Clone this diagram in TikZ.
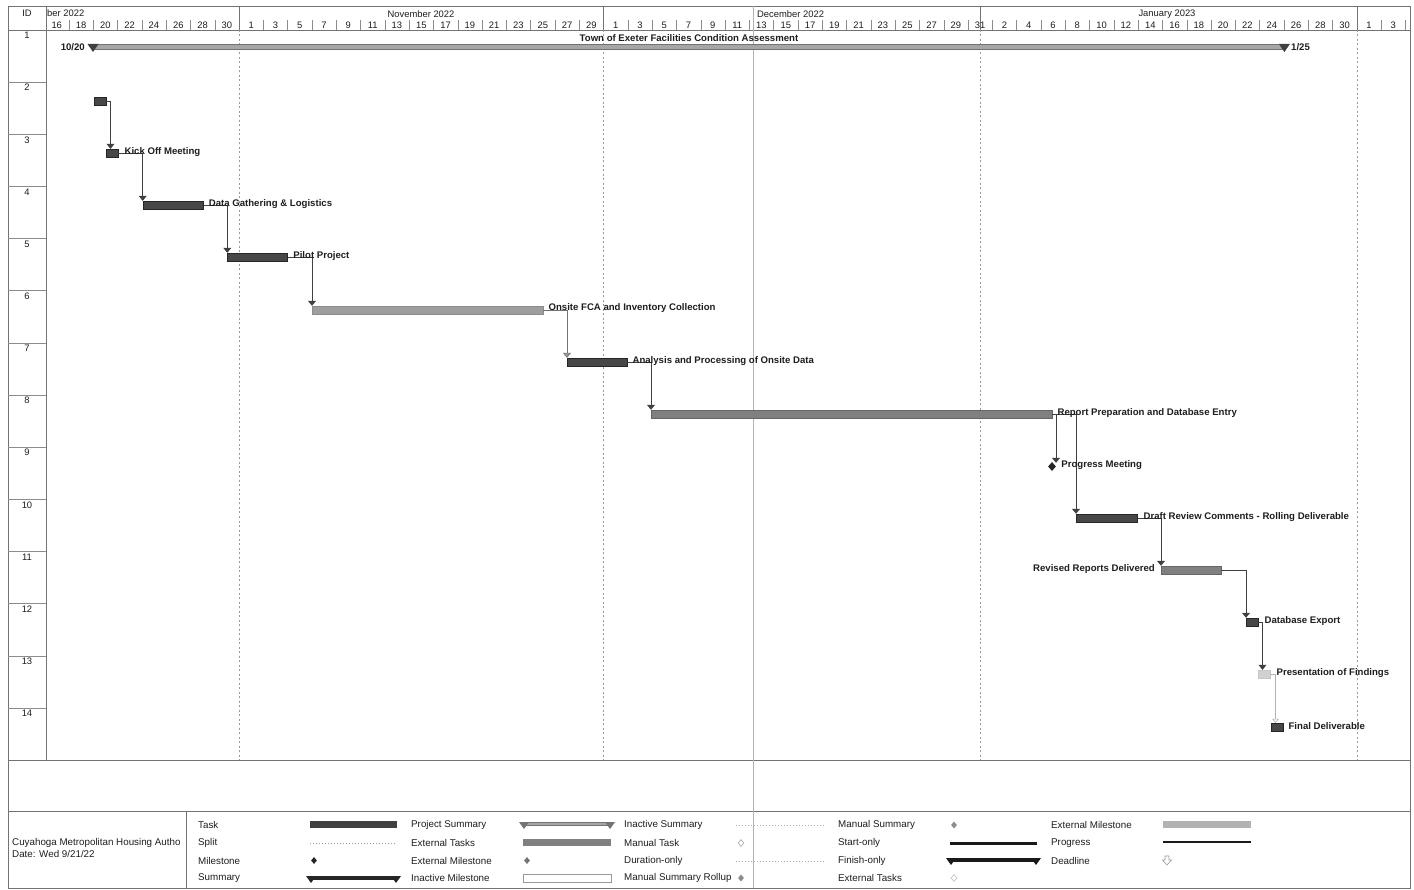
\documentclass[tikz,border=0pt]{standalone}
\usepackage{fontspec}
\setmainfont{Liberation Sans}
\usetikzlibrary{arrows.meta,calc,shapes.geometric}
\definecolor{ink}{HTML}{1E1E1E}
\definecolor{gridc}{HTML}{9A9A9A}
\begin{document}
\begin{tikzpicture}[x=1pt,y=-1pt,
  lbl/.style={font=\fontsize{9.6}{11}\selectfont\bfseries, inner sep=0pt, anchor=west, text=ink},
  hdr/.style={font=\fontsize{9.4}{11}\selectfont, inner sep=0pt, text=ink},
  lgd/.style={font=\fontsize{9.8}{11}\selectfont, inner sep=0pt, anchor=west, text=ink},
  barbase/.style={minimum height=8pt, inner sep=0pt, anchor=west, line width=0.4pt},
  darkbar/.style={barbase, draw=black!85, fill=black!72},
  midbar/.style={barbase, draw=black!60, fill=black!50},
  lightbar/.style={barbase, draw=black!45, fill=black!38},
  palebar/.style={barbase, draw=black!22, fill=black!18},
  conn/.style={draw=black!75, line width=0.6pt, -{Triangle[width=8pt,length=5pt]}},
  paleconn/.style={draw=black!30, line width=0.6pt, -{Triangle[width=7pt,length=4pt,open]}},
  mstone/.style={diamond, fill=black!85, inner sep=0pt, minimum width=8pt, minimum height=9pt},
  sumtri/.style={fill=black!75},
  dotline/.style={draw=black!40, line width=0.6pt, dash pattern=on 0.8pt off 2.2pt},
]
\useasboundingbox (0,0) rectangle (1414,890);
\fill[white] (0,0) rectangle (1414,890);

% ---------- frame and grid ----------
\draw[black!55, line width=0.6pt] (8,6) rectangle (1410,888);
\draw[black!55, line width=0.6pt] (8,30) -- (1410,30);
\draw[black!55, line width=0.6pt] (8,760) -- (1410,760);
\draw[black!55, line width=0.6pt] (8,811) -- (1410,811);
\draw[black!55, line width=0.6pt] (46,6) -- (46,760);
\draw[black!55, line width=0.6pt] (186,811) -- (186,888);
\draw[black!30, line width=0.6pt] (753,6) -- (753,888);
% row separators in ID column
\foreach \k in {1,...,13} \draw[black!45, line width=0.5pt] (8,{30+52.15*\k}) -- (46,{30+52.15*\k});
% ID numbers
\foreach \k in {1,...,14} \node[hdr] (id\k) at (27,{35.5+52.15*(\k-1)}) {\k};
\node[hdr] (idh) at (27,13) {ID};

% month boundaries
\foreach \i in {0,30,61,92} {
  \draw[black!55, line width=0.5pt] ({239+12.15*\i},6) -- ({239+12.15*\i},30);
  \draw[gridc, line width=0.6pt, dash pattern=on 2pt off 2.5pt] ({239+12.15*\i},30) -- ({239+12.15*\i},760);
}
% day ticks
\foreach \i in {-14,-12,...,-2,2,4,...,28,32,34,...,60,62,64,...,90,94,96}
  \draw[black!45, line width=0.4pt] ({239+12.15*\i},20) -- ({239+12.15*\i},30);
% month labels
\node[hdr, anchor=west] (moct) at (47,13) {ber 2022};
\node[hdr] (mnov) at (421,14) {November 2022};
\node[hdr, anchor=west] (mdec) at (757,14) {December 2022};
\node[hdr] (mjan) at (1167,14) {January 2023};
% day labels
\foreach \d in {16,18,...,30} \node[hdr] at ({239+12.15*(\d-31)},25) {\d};
\foreach \d in {1,3,...,29} \node[hdr] at ({239+12.15*(\d)},25) {\d};
\foreach \d in {1,3,...,31} \node[hdr] at ({239+12.15*(\d+30)},25) {\d};
\foreach \d in {2,4,...,30} \node[hdr] at ({239+12.15*(\d+61)},25) {\d};
\foreach \d in {1,3} \node[hdr] at ({239+12.15*(\d+92)},25) {\d};

% ---------- row 1 summary ----------
\node[barbase, minimum height=4.5pt, minimum width=1191pt, draw=black!55, fill=black!35] (s1) at (93,46.5) {};
\fill[sumtri] ($(s1.west)+(-5.5,-2.5)$) -- ($(s1.west)+(5.5,-2.5)$) -- ($(s1.west)+(0,5.5)$) -- cycle;
\fill[sumtri] ($(s1.east)+(-5.5,-2.5)$) -- ($(s1.east)+(5.5,-2.5)$) -- ($(s1.east)+(0,5.5)$) -- cycle;
\node[lbl] (s1t) at (689,38) [anchor=center] {Town of Exeter Facilities Condition Assessment};
\node[lbl, anchor=east] (s1a) at (85,47) {10/20};
\node[lbl] (s1b) at (1291,47) {1/25};

% ---------- task bars ----------
\node[darkbar, minimum width=12pt] (t2) at (94,101) {};
\node[darkbar, minimum width=12pt] (t3) at (106,153) {};
\node[darkbar, minimum width=60.6pt] (t4) at (142.7,205) {};
\node[darkbar, minimum width=60pt] (t5) at (227.3,257) {};
\node[lightbar, minimum width=231pt] (t6) at (312,310) {};
\node[darkbar, minimum width=60pt] (t7) at (567,362) {};
\node[midbar, minimum width=401pt] (t8) at (651,414) {};
\node[mstone] (m9) at (1052,466.5) {};
\node[darkbar, minimum width=61pt] (t10) at (1076,518) {};
\node[midbar, minimum width=60pt] (t11) at (1161,570) {};
\node[darkbar, minimum width=12pt] (t12) at (1246,622) {};
\node[palebar, minimum width=12pt] (t13) at (1258,674) {};
\node[darkbar, minimum width=12pt] (t14) at (1271,727) {};

% ---------- connectors ----------
\draw[conn] (t2.east) -| ($(t3.north west)+(4.5,0)$);
\draw[conn] (t3.east) -| (t4.north west);
\draw[conn] (t4.east) -| (t5.north west);
\draw[conn] (t5.east) -| (t6.north west);
\draw[conn, draw=black!55, -{Triangle[width=8pt,length=5pt,fill=black!40]}] (t6.east) -| (t7.north west);
\draw[conn] (t7.east) -| (t8.north west);
\draw[conn] (t8.east) -| ($(m9.north)+(4,1)$);
\draw[conn] (t8.east) -| (t10.north west);
\draw[conn] (t10.east) -| (t11.north west);
\draw[conn] (t11.east) -| (t12.north west);
\draw[conn] (t12.east) -| ($(t13.north west)+(4.5,0)$);
\draw[paleconn] (t13.east) -| ($(t14.north west)+(4.5,0)$);

% ---------- task labels ----------
\node[lbl] (l3) at ($(t3.east)+(6,-0.5)$) {Kick Off Meeting};
\node[lbl] (l4) at ($(t4.east)+(5,-0.5)$) {Data Gathering \& Logistics};
\node[lbl] (l5) at ($(t5.east)+(5.5,-0.5)$) {Pilot Project};
\node[lbl] (l6) at ($(t6.east)+(5,-1.5)$) {Onsite FCA and Inventory Collection};
\node[lbl] (l7) at ($(t7.east)+(5,-0.5)$) {Analysis and Processing of Onsite Data};
\node[lbl] (l8) at ($(t8.east)+(5,-0.5)$) {Report Preparation and Database Entry};
\node[lbl] (l9) at ($(m9.east)+(5,-1)$) {Progress Meeting};
\node[lbl] (l10) at ($(t10.east)+(6,-0.5)$) {Draft Review Comments - Rolling Deliverable};
\node[lbl, anchor=east] (l11) at ($(t11.west)+(-6,-0.5)$) {Revised Reports Delivered};
\node[lbl] (l12) at ($(t12.east)+(6,-0.5)$) {Database Export};
\node[lbl] (l13) at ($(t13.east)+(6,-0.5)$) {Presentation of Findings};
\node[lbl] (l14) at ($(t14.east)+(5,-0.5)$) {Final Deliverable};

% ---------- legend ----------
\node[lgd] (c1) at (12,843) {Cuyahoga Metropolitan Housing Autho};
\node[lgd] (c2) at (12,853.5) {Date: Wed 9/21/22};

\node[lgd] (g11) at (198,825) {Task};
\node[lgd] (g12) at (198,843) {Split};
\node[lgd] (g13) at (198,861) {Milestone};
\node[lgd] (g14) at (198,878) {Summary};
\fill[black!75] (310,821) rectangle (397,828);
\draw[dotline] (310,843) -- (397,843);
\node[mstone, minimum width=6pt, minimum height=7pt] (gm1) at (314,860.5) {};
\fill[black!85] (310,876) rectangle (397,879.5);
\fill[black!85] (306,876) -- (316,876) -- (311,883) -- cycle;
\fill[black!85] (391,876) -- (401,876) -- (396,883) -- cycle;

\node[lgd] (g21) at (411,825) {Project Summary};
\node[lgd] (g22) at (411,843) {External Tasks};
\node[lgd] (g23) at (411,861) {External Milestone};
\node[lgd] (g24) at (411,878) {Inactive Milestone};
\fill[black!35] (523,822) rectangle (611,825.5);
\draw[black!55, line width=0.4pt] (523,822) rectangle (611,825.5);
\fill[black!55] (519,822) -- (529,822) -- (524,829) -- cycle;
\fill[black!55] (605,822) -- (615,822) -- (610,829) -- cycle;
\fill[black!50] (523,839) rectangle (611,846);
\node[diamond, fill=black!55, inner sep=0pt, minimum width=6pt, minimum height=7pt] (gm2) at (527,860.5) {};
\draw[black!40, line width=0.5pt] (523,874) rectangle (611,882);

\node[lgd] (g31) at (624,825) {Inactive Summary};
\node[lgd] (g32) at (624,843) {Manual Task};
\node[lgd] (g33) at (624,861) {Duration-only};
\node[lgd] (g34) at (624,878) {Manual Summary Rollup};
\draw[dotline, draw=black!30] (736,825) -- (824,825);
\node[diamond, draw=black!35, line width=0.6pt, inner sep=0pt, minimum width=6pt, minimum height=7pt] (gm3) at (741,843) {};
\draw[dotline, draw=black!30] (736,861) -- (824,861);
\node[diamond, fill=black!45, inner sep=0pt, minimum width=6pt, minimum height=7pt] (gm4) at (741,878) {};

\node[lgd] (g41) at (838,825) {Manual Summary};
\node[lgd] (g42) at (838,843) {Start-only};
\node[lgd] (g43) at (838,861) {Finish-only};
\node[lgd] (g44) at (838,878) {External Tasks};
\node[diamond, fill=black!45, inner sep=0pt, minimum width=6pt, minimum height=7pt] (gm5) at (954,825) {};
\fill[black!90] (950,841.5) rectangle (1037,844.5);
\fill[black!90] (950,858) rectangle (1037,861.5);
\fill[black!90] (946,858) -- (956,858) -- (951,865) -- cycle;
\fill[black!90] (1031,858) -- (1041,858) -- (1036,865) -- cycle;
\node[diamond, draw=black!25, line width=0.6pt, inner sep=0pt, minimum width=6pt, minimum height=7pt] (gm6) at (954,878) {};

\node[lgd] (g51) at (1051,825) {External Milestone};
\node[lgd] (g52) at (1051,843) {Progress};
\node[lgd] (g53) at (1051,861) {Deadline};
\fill[black!30] (1163,821) rectangle (1251,828);
\draw[black!90, line width=1.2pt] (1163,842) -- (1251,842);
\draw[black!40, line width=0.6pt] (1165,856) -- (1169,856) -- (1169,860) -- (1171.5,860) -- (1167,865) -- (1162.5,860) -- (1165,860) -- cycle;
\end{tikzpicture}
\end{document}
